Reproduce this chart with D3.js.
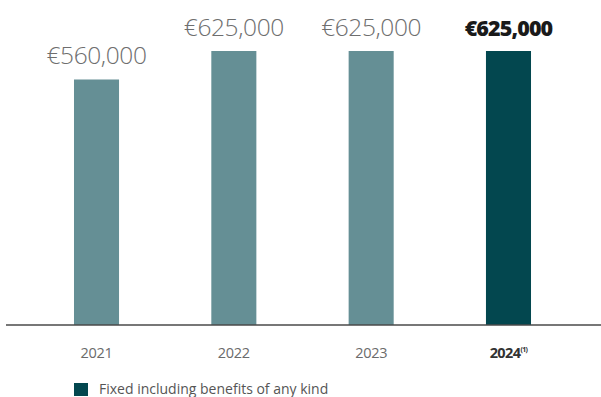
<!DOCTYPE html>
<html>
<head>
<meta charset="utf-8">
<script src="https://cdn.jsdelivr.net/npm/d3@7"></script>
<style>
  html, body { margin: 0; padding: 0; background: #fff; }
  svg { display: block; }
</style>
</head>
<body>
<svg id="chart" width="601" height="397"></svg>
<script>
// Fixed remuneration per year, including benefits of any kind (EUR)
const years = ["2021", "2022", "2023", "2024"];
const values = [560000, 625000, 625000, 625000];
const valueLabels = ["€560,000", "€625,000", "€625,000", "€625,000"];
const highlightIndex = [false, false, false, true];
const footnote = "(1)";
const legendLabel = "Fixed including benefits of any kind";

const W = 601, H = 397;
const baseY = 325, topY = 51;

const svg = d3.select("#chart");

const x = d3.scaleBand()
  .domain(years)
  .range([27.85, 577.15])
  .paddingInner(0.672)
  .paddingOuter(0.336);

const y = d3.scaleLinear()
  .domain([0, d3.max(values)])
  .range([baseY, topY]);

const data = years.map((yr, i) => ({ yr, v: values[i], label: valueLabels[i], hi: highlightIndex[i] }));

const lightBar = "#658f95";
const darkBar = "#03474f";

// bars
svg.append("g").selectAll("rect")
  .data(data)
  .join("rect")
  .attr("x", d => x(d.yr))
  .attr("y", d => y(d.v))
  .attr("width", x.bandwidth())
  .attr("height", d => baseY - y(d.v))
  .attr("fill", d => d.hi ? darkBar : lightBar);

// value labels above bars
svg.append("g").selectAll("text")
  .data(data)
  .join("text")
  .attr("x", d => x(d.yr) + x.bandwidth() / 2)
  .attr("y", d => y(d.v) - 15.5)
  .attr("text-anchor", "middle")
  .attr("font-family", "'Open Sans', sans-serif")
  .attr("font-size", d => d.hi ? 21.5 : 24.5)
  .attr("font-weight", d => d.hi ? 800 : 300)
  .attr("letter-spacing", d => d.hi ? -0.9 : -0.4)
  .attr("fill", d => d.hi ? "#1a1a1a" : "#6e6e6e")
  .text(d => d.label);

// baseline
svg.append("line")
  .attr("x1", 6).attr("x2", W)
  .attr("y1", baseY).attr("y2", baseY)
  .attr("stroke", "#4a4a4a")
  .attr("stroke-width", 1.4);

// x-axis tick labels
const xAxis = d3.axisBottom(x).tickSize(0).tickPadding(0);
const gx = svg.append("g")
  .attr("transform", `translate(0,${baseY})`)
  .call(xAxis);
gx.select(".domain").remove();
gx.selectAll(".tick text")
  .attr("y", 33)
  .attr("dy", 0)
  .attr("font-family", "'Open Sans', sans-serif")
  .attr("font-size", 14.5)
  .attr("letter-spacing", -0.3)
  .attr("fill", "#6b6b6b")
  .each(function(d, i) {
    const t = d3.select(this);
    if (highlightIndex[i]) {
      t.text(null)
        .attr("font-weight", 700)
        .attr("fill", "#333")
        .attr("letter-spacing", -0.6);
      t.append("tspan").text(d);
      t.append("tspan")
        .attr("font-size", 7)
        .attr("dy", -6)
        .text(footnote);
    }
  });

// legend
const legend = svg.append("g").attr("transform", "translate(74,383)");
legend.append("rect")
  .attr("width", 14).attr("height", 13)
  .attr("fill", darkBar);
legend.append("text")
  .attr("x", 25).attr("y", 11)
  .attr("font-family", "'Open Sans', sans-serif")
  .attr("font-size", 14)
  .attr("fill", "#555")
  .text(legendLabel);
</script>
</body>
</html>
